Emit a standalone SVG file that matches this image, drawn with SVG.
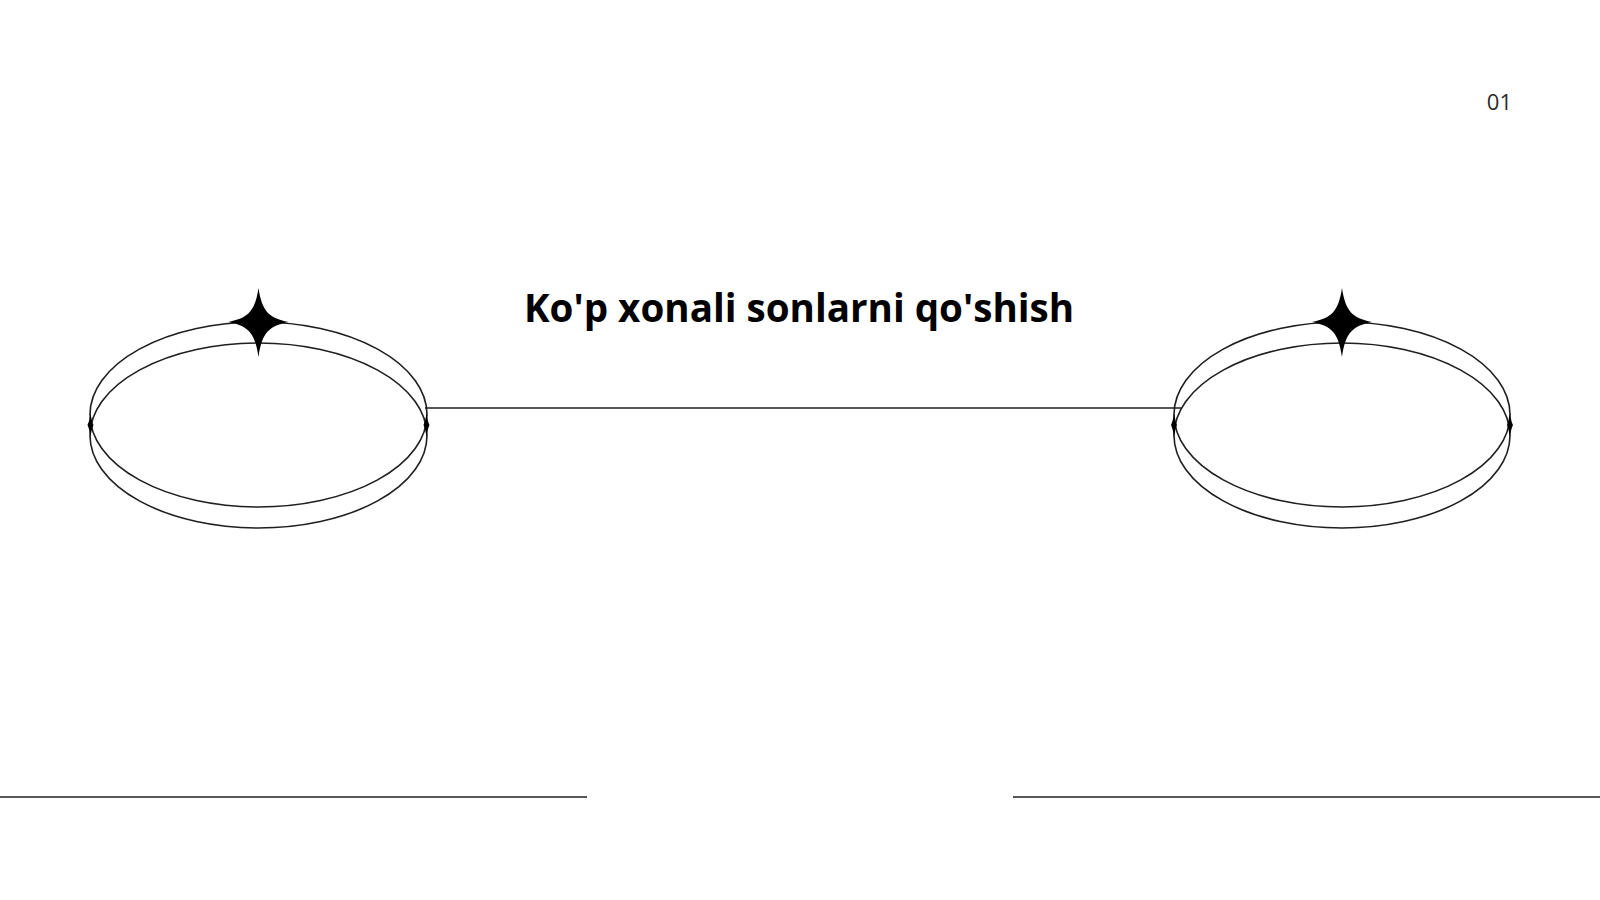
<svg xmlns="http://www.w3.org/2000/svg" width="1600" height="900" viewBox="0 0 1600 900">
  <defs>
    <style>
      .ring { fill: none; stroke: #1f1f1f; stroke-width: 1.6; }
      .line { fill: none; stroke: #1f1f1f; stroke-width: 1.6; }
      .star { fill: #000; }
      .title { font-family: "Open Sans", "Noto Sans", "Liberation Sans", sans-serif; font-weight: 700; font-size: 38.6px; fill: #000; }
      .num { font-family: "Open Sans", "Noto Sans", "Liberation Sans", sans-serif; font-size: 22px; font-weight: 500; fill: #2a2a2a; }
    </style>
    <path id="sparkle" d="M0,-34 C3.5,-11 10,-4 30,0 C10,4 3.5,11 0,35 C-3.5,11 -10,4 -30,0 C-10,-4 -3.5,-11 0,-34 Z"/>
    <path id="cusp" d="M0,-12 C1,-4 2.5,-1 3,0 C2.5,1 1,4 0,12 C-1,4 -2.5,1 -3,0 C-2.5,-1 -1,-4 0,-12 Z"/>
  </defs>
  <rect width="1600" height="900" fill="#fff"/>

  <g id="connectors">
    <line class="line" x1="425" y1="408" x2="1181" y2="408"/>
  </g>

  <g id="left-ring">
    <ellipse class="ring" cx="258.5" cy="414.5" rx="168.5" ry="92.5"/>
    <ellipse class="ring" cx="258.5" cy="435.5" rx="168.5" ry="92.5"/>
    <use href="#sparkle" class="star" x="258.5" y="322"/>
    <use href="#cusp" class="star" x="90.5" y="425"/>
    <use href="#cusp" class="star" x="426.5" y="425"/>
  </g>

  <g id="right-ring">
    <ellipse class="ring" cx="1342" cy="414.5" rx="168" ry="92.5"/>
    <ellipse class="ring" cx="1342" cy="435.5" rx="168" ry="92.5"/>
    <use href="#sparkle" class="star" x="1342" y="322"/>
    <use href="#cusp" class="star" x="1174" y="425"/>
    <use href="#cusp" class="star" x="1510" y="425"/>
  </g>

  <g id="title">
    <text class="title" x="799" y="322" text-anchor="middle">Ko'p xonali sonlarni qo'shish</text>
  </g>

  <g id="page-number">
    <text class="num" x="1512" y="110" text-anchor="end">01</text>
  </g>

  <g id="decoration">
    <line class="line" x1="0" y1="797" x2="587" y2="797"/>
    <line class="line" x1="1013" y1="797" x2="1600" y2="797"/>
  </g>
</svg>
